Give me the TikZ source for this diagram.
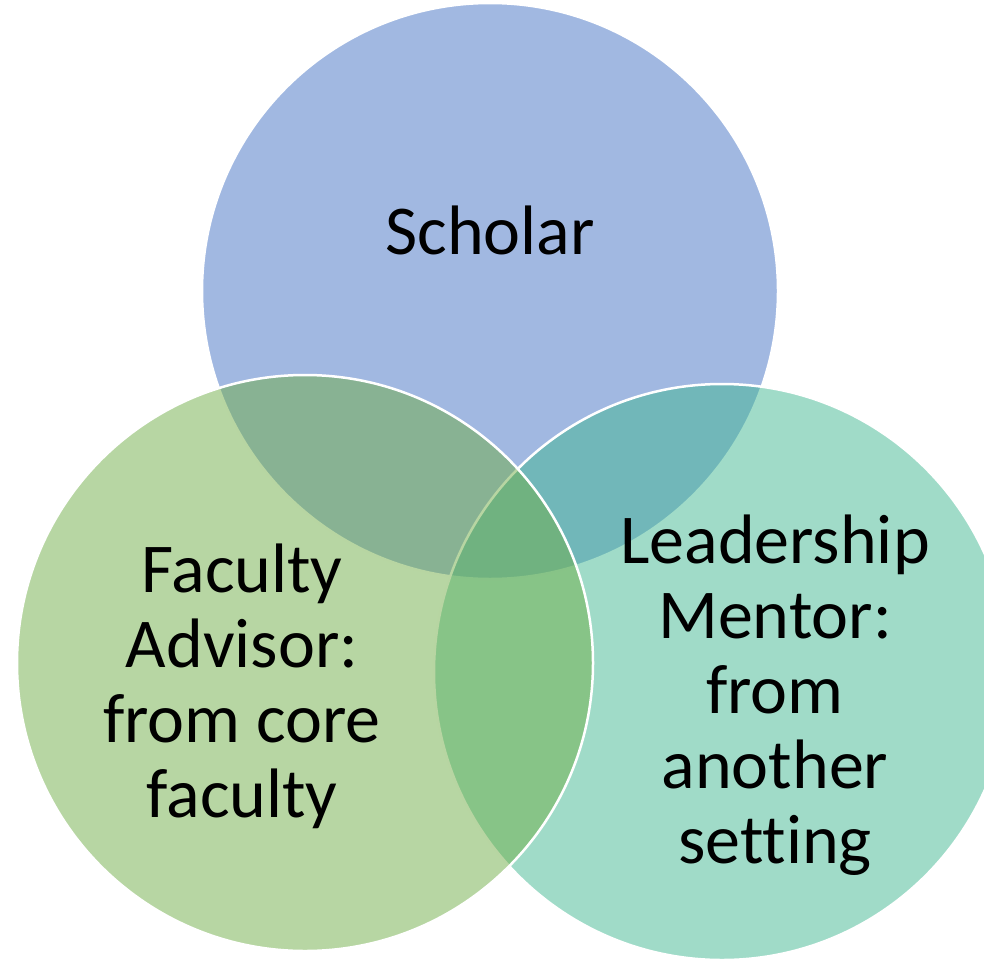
\documentclass[tikz,border=0pt]{standalone}
\usepackage{fontspec}
\setmainfont[Ligatures=NoCommon]{Carlito}
\definecolor{scholarblue}{RGB}{68,114,196}
\definecolor{advisorgreen}{RGB}{112,173,71}
\definecolor{mentorteal}{RGB}{66,184,146}

\begin{document}
\begin{tikzpicture}[x=1pt,y=-1pt,
  ring/.style={circle,minimum size=576pt,inner sep=0pt,draw=white,line width=2.5pt,fill opacity=0.5},
  word/.style={align=center,font=\fontsize{70}{75}\selectfont,inner sep=0pt,anchor=base}]
\useasboundingbox (0,0) rectangle (984,958);
\clip (0,0) rectangle (984,958);
\node[ring,fill=scholarblue] (scholar) at (490,291) {};
\node[ring,fill=mentorteal] (mentor) at (722,672) {};
\node[ring,fill=advisorgreen] (advisor) at (305,663) {};
\node[word] (scholarlabel) at (490,254) {Scholar};
\node[word] (advisorlabel) at (242,817) {Faculty\\Advisor:\\from core\\faculty};
\node[word] (mentorlabel) at (775,863) {Leadership\\Mentor:\\from\\another\\setting};
\end{tikzpicture}
\end{document}
